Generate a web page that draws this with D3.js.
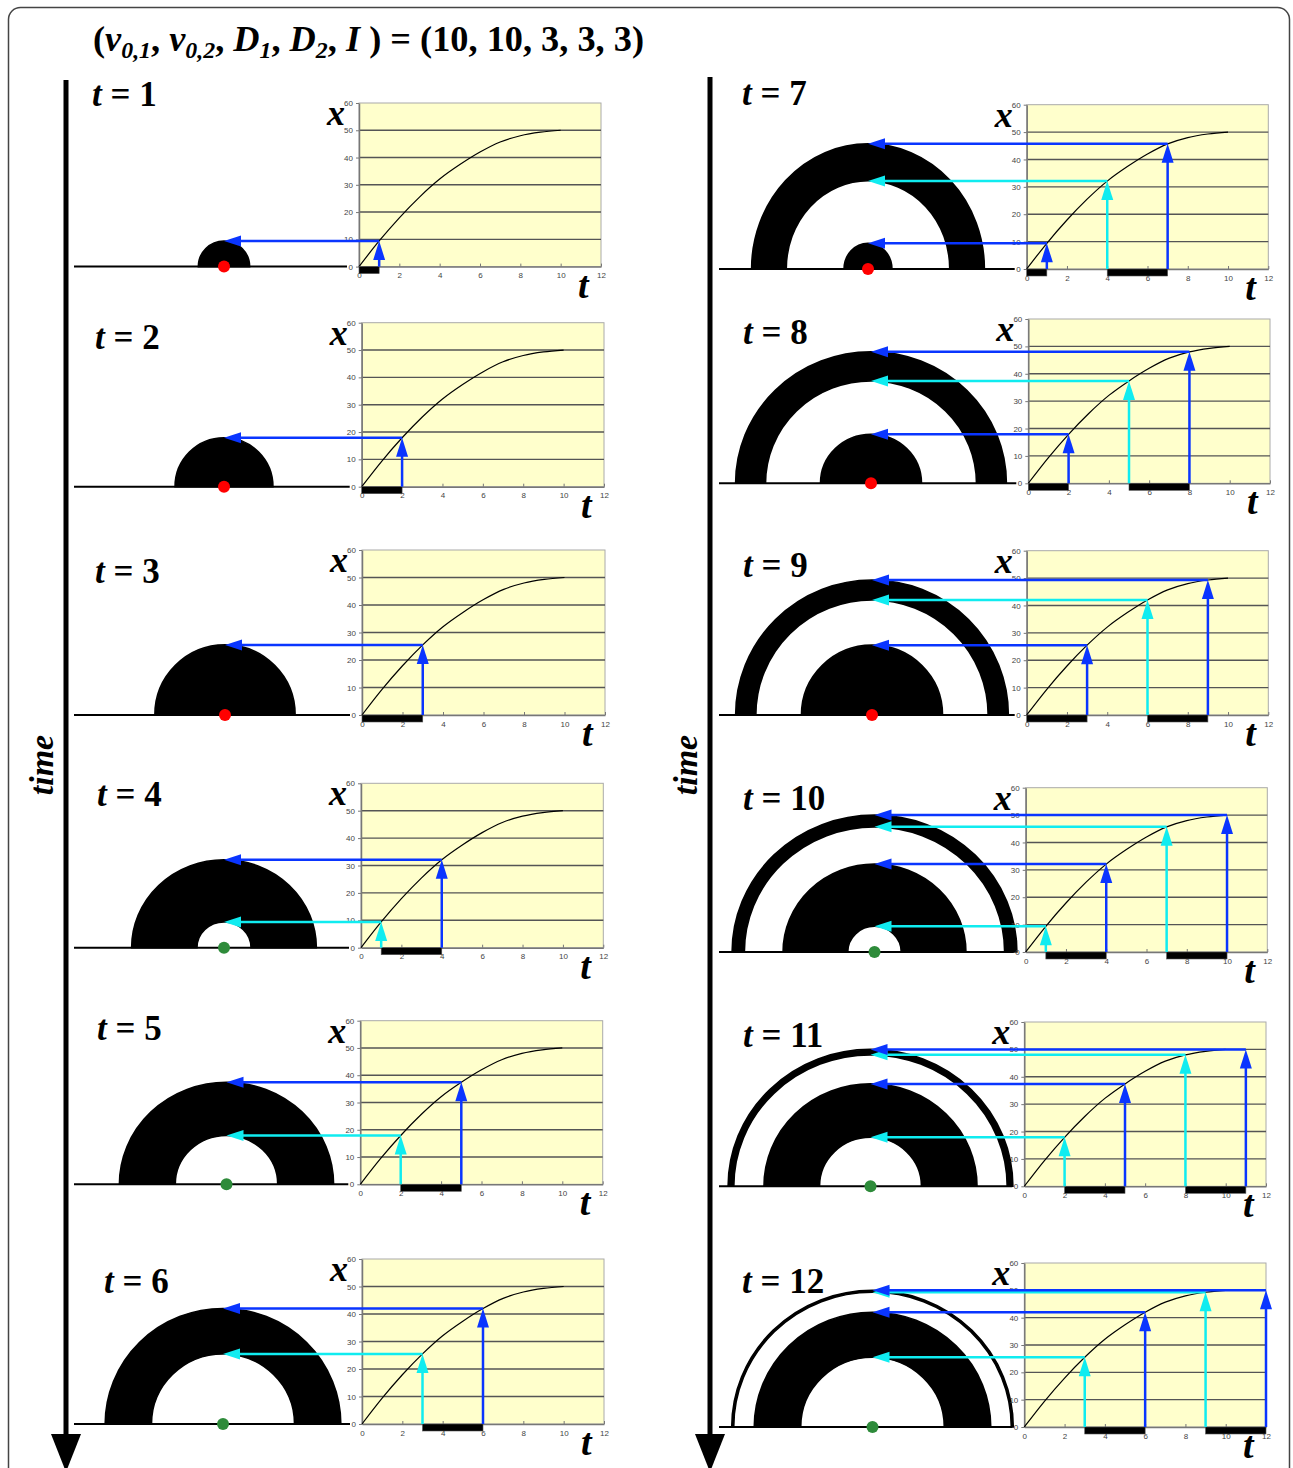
<!DOCTYPE html>
<html>
<head>
<meta charset="utf-8">
<script src="https://cdn.jsdelivr.net/npm/d3@7"></script>
<style>
  body { margin: 0; background: #fff; }
  svg text { font-family: "Liberation Serif", "DejaVu Serif", serif; }
  .tick text { font-family: "Liberation Sans", Arial, sans-serif; font-size: 8px; fill: #444; }
</style>
</head>
<body>
<div id="figure"></div>
<script>
// ---- data ----
const frameTimes = [1, 2, 3, 4, 5, 6, 7, 8, 9, 10, 11, 12];
// source emitting (red dot) or silent (green dot) at each frame
const sourceOn = [true, true, true, false, false, false, true, true, true, false, false, false];
// front position x(t)
const curveT = [0, 1, 2, 3, 4, 5, 6, 7, 8, 9, 10, 11, 12];
const curveX = [0, 9.4, 17.9, 25.5, 32.1, 37.4, 42.0, 45.7, 48.0, 49.3, 50, 50, 50];
const curveEnd = 10;
// black bars on the t axis (age intervals of emitted signal) for each frame
const emissionBars = [
  [[0, 1]], [[0, 2]], [[0, 3]], [[1, 4]], [[2, 5]], [[3, 6]],
  [[0, 1], [4, 7]], [[0, 2], [5, 8]], [[0, 3], [6, 9]],
  [[1, 4], [7, 10]], [[2, 5], [8, 11]], [[3, 6], [9, 12]]
];
const xTickValues = [0, 2, 4, 6, 8, 10, 12];
const yTickValues = [0, 10, 20, 30, 40, 50, 60];
const titleParts = [
  { s: '(' }, { s: 'v', i: 1 }, { s: '0,1', i: 1, sub: 1 }, { s: ', ' },
  { s: 'v', i: 1 }, { s: '0,2', i: 1, sub: 1 }, { s: ', ' },
  { s: 'D', i: 1 }, { s: '1', i: 1, sub: 1 }, { s: ', ' },
  { s: 'D', i: 1 }, { s: '2', i: 1, sub: 1 }, { s: ', ' },
  { s: 'I', i: 1 }, { s: ' ) = (10, 10, 3, 3, 3)' }
];

// ---- layout ----
const W = 1293, H = 1468;
const blue = '#0a35ff', cyan = '#10ecf0';

// chart box, semicircle centre, horizontal stretch of the drawing, label position
const panels = [
  { left: 359, top: 103, right: 601, zero: 266.6, cx: 224, rx: 1.0, lx: 92, ly: 106, g0: 74 },
  { left: 361.7, top: 322.7, right: 604, zero: 486.7, cx: 224, rx: 1.0, lx: 95, ly: 349, g0: 74 },
  { left: 362, top: 550, right: 605, zero: 715, cx: 225, rx: 1.0, lx: 95, ly: 583, g0: 74 },
  { left: 361, top: 783.3, right: 603.3, zero: 947.7, cx: 224, rx: 1.05, lx: 97, ly: 806, g0: 74 },
  { left: 360.3, top: 1020.7, right: 602.7, zero: 1184.3, cx: 226.5, rx: 1.05, lx: 97, ly: 1040, g0: 74 },
  { left: 362, top: 1259, right: 604, zero: 1424, cx: 223, rx: 1.02, lx: 104, ly: 1293, g0: 74 },
  { left: 1026.7, top: 104.7, right: 1268.3, zero: 269, cx: 868, rx: 0.93, lx: 742, ly: 105, g0: 719 },
  { left: 1028.3, top: 319, right: 1270, zero: 483.3, cx: 871, rx: 1.03, lx: 743, ly: 344, g0: 719 },
  { left: 1026.7, top: 550.7, right: 1268.3, zero: 715, cx: 872, rx: 1.01, lx: 743, ly: 577, g0: 719 },
  { left: 1025.7, top: 787.7, right: 1267.3, zero: 952, cx: 874.5, rx: 1.04, lx: 743, ly: 810, g0: 719 },
  { left: 1024.3, top: 1022, right: 1266, zero: 1186.3, cx: 870.5, rx: 1.04, lx: 743, ly: 1047, g0: 719 },
  { left: 1024.3, top: 1263, right: 1266, zero: 1427, cx: 872.5, rx: 1.03, lx: 742, ly: 1293, g0: 719 }
];

const xAt = t => curveX[curveT.indexOf(t)];

const svg = d3.select('#figure').append('svg')
  .attr('width', W).attr('height', H);

// frame
svg.append('rect')
  .attr('x', 8.5).attr('y', 7.5).attr('width', 1281).attr('height', 1500)
  .attr('rx', 12).attr('fill', 'none').attr('stroke', '#444').attr('stroke-width', 1.5);

// title
const title = svg.append('text')
  .attr('x', 93).attr('y', 51)
  .attr('font-size', 35).attr('font-weight', 'bold')
  .attr('textLength', 551).attr('lengthAdjust', 'spacingAndGlyphs');
titleParts.forEach((d, k) => {
  const prevSub = k > 0 && titleParts[k - 1].sub;
  title.append('tspan')
    .attr('font-style', d.i ? 'italic' : 'normal')
    .attr('font-size', d.sub ? 23 : 35)
    .attr('dy', d.sub ? 7 : (prevSub ? -7 : 0))
    .text(d.s);
});

// time arrows
[{ x: 66, y0: 80 }, { x: 710, y0: 77 }].forEach(a => {
  svg.append('line')
    .attr('x1', a.x).attr('x2', a.x).attr('y1', a.y0).attr('y2', 1440)
    .attr('stroke', '#000').attr('stroke-width', 5);
  svg.append('path')
    .attr('d', `M${a.x - 15},1434 L${a.x + 15},1434 L${a.x},1472 Z`)
    .attr('fill', '#000');
  svg.append('text')
    .attr('transform', `translate(${a.x - 13},765) rotate(-90)`)
    .attr('text-anchor', 'middle')
    .attr('font-size', 34).attr('font-weight', 'bold').attr('font-style', 'italic')
    .text('time');
});

const arc = d3.arc().startAngle(-Math.PI / 2).endAngle(Math.PI / 2);

panels.forEach((p, i) => {
  const tNow = frameTimes[i];
  const bars = emissionBars[i];
  const xScale = d3.scaleLinear().domain([0, 12]).range([p.left, p.right]);
  const yScale = d3.scaleLinear().domain([0, 60]).range([p.zero, p.top]);
  const rad = v => yScale(0) - yScale(v);
  const g = svg.append('g');

  // ground
  g.append('line')
    .attr('x1', p.g0).attr('x2', p.left - 12)
    .attr('y1', p.zero).attr('y2', p.zero)
    .attr('stroke', '#000').attr('stroke-width', 2);

  // wave bands
  g.selectAll('path.band').data(bars).join('path')
    .attr('class', 'band')
    .attr('transform', `translate(${p.cx},${p.zero}) scale(${p.rx},1)`)
    .attr('d', d => arc({ innerRadius: rad(xAt(d[0])), outerRadius: rad(xAt(d[1])) }))
    .attr('fill', '#000').attr('stroke', '#000').attr('stroke-width', 1.6)
    .attr('vector-effect', 'non-scaling-stroke');

  // source
  g.append('circle')
    .attr('cx', p.cx).attr('cy', p.zero).attr('r', 6)
    .attr('fill', sourceOn[i] ? '#ff0000' : '#2e8b3a');

  // label t = N
  const lab = g.append('text')
    .attr('x', p.lx).attr('y', p.ly)
    .attr('font-size', 35).attr('font-weight', 'bold');
  lab.append('tspan').attr('font-style', 'italic').text('t');
  lab.append('tspan').text(' = ' + tNow);

  // chart
  g.append('rect')
    .attr('x', p.left).attr('y', p.top)
    .attr('width', p.right - p.left).attr('height', p.zero - p.top)
    .attr('fill', '#ffffcc').attr('stroke', '#aaa').attr('stroke-width', 1);

  g.selectAll('line.grid').data(yTickValues.filter(v => v > 0 && v < 60)).join('line')
    .attr('class', 'grid')
    .attr('x1', p.left).attr('x2', p.right)
    .attr('y1', d => yScale(d)).attr('y2', d => yScale(d))
    .attr('stroke', '#555').attr('stroke-width', 1.4);

  const xAxisG = g.append('g')
    .attr('transform', `translate(0,${p.zero})`)
    .call(d3.axisBottom(xScale).tickValues(xTickValues).tickSize(-3).tickPadding(6).tickSizeOuter(0));
  const yAxisG = g.append('g')
    .attr('transform', `translate(${p.left},0)`)
    .call(d3.axisLeft(yScale).tickValues(yTickValues).tickSize(3).tickPadding(3).tickSizeOuter(0));
  [xAxisG, yAxisG].forEach(ax => {
    ax.select('.domain').attr('stroke', '#777').attr('stroke-width', 1.5);
    ax.selectAll('.tick line').attr('stroke', '#777');
  });

  // front curve
  const line = d3.line().x(d => xScale(d[0])).y(d => yScale(d[1])).curve(d3.curveMonotoneX);
  g.append('path')
    .datum(curveT.map((t, k) => [t, curveX[k]]).filter(d => d[0] <= curveEnd))
    .attr('d', line)
    .attr('fill', 'none').attr('stroke', '#000').attr('stroke-width', 1.2);

  // black bars under the t axis
  g.selectAll('rect.bar').data(bars).join('rect')
    .attr('class', 'bar')
    .attr('x', d => xScale(d[0])).attr('width', d => xScale(d[1]) - xScale(d[0]))
    .attr('y', p.zero).attr('height', 7)
    .attr('fill', '#000').attr('stroke', '#555').attr('stroke-width', 0.6);

  // axis letters
  g.append('text')
    .attr('x', p.left - 32).attr('y', p.top + 22)
    .attr('font-size', 36).attr('font-weight', 'bold').attr('font-style', 'italic')
    .text('x');
  g.append('text')
    .attr('x', p.right - 23).attr('y', p.zero + 31)
    .attr('font-size', 38).attr('font-weight', 'bold').attr('font-style', 'italic')
    .text('t');

  // arrows: cyan at start of a band (if not 0), blue at its end
  const arrows = [];
  bars.forEach(b => {
    if (b[0] > 0) arrows.push({ t: b[0], c: cyan });
    arrows.push({ t: b[1], c: blue });
  });
  arrows.forEach(a => {
    const px = xScale(a.t), py = yScale(xAt(a.t));
    g.append('line')
      .attr('x1', px).attr('x2', px).attr('y1', p.zero).attr('y2', py + 16)
      .attr('stroke', a.c).attr('stroke-width', 2.5);
    g.append('path')
      .attr('d', `M${px},${py} L${px - 6},${py + 19} L${px + 6},${py + 19} Z`)
      .attr('fill', a.c);
    g.append('line')
      .attr('x1', px).attr('x2', p.cx + 14).attr('y1', py).attr('y2', py)
      .attr('stroke', a.c).attr('stroke-width', 2.5);
    g.append('path')
      .attr('d', `M${p.cx},${py} L${p.cx + 17},${py - 5.5} L${p.cx + 17},${py + 5.5} Z`)
      .attr('fill', a.c);
  });
});
</script>
</body>
</html>
